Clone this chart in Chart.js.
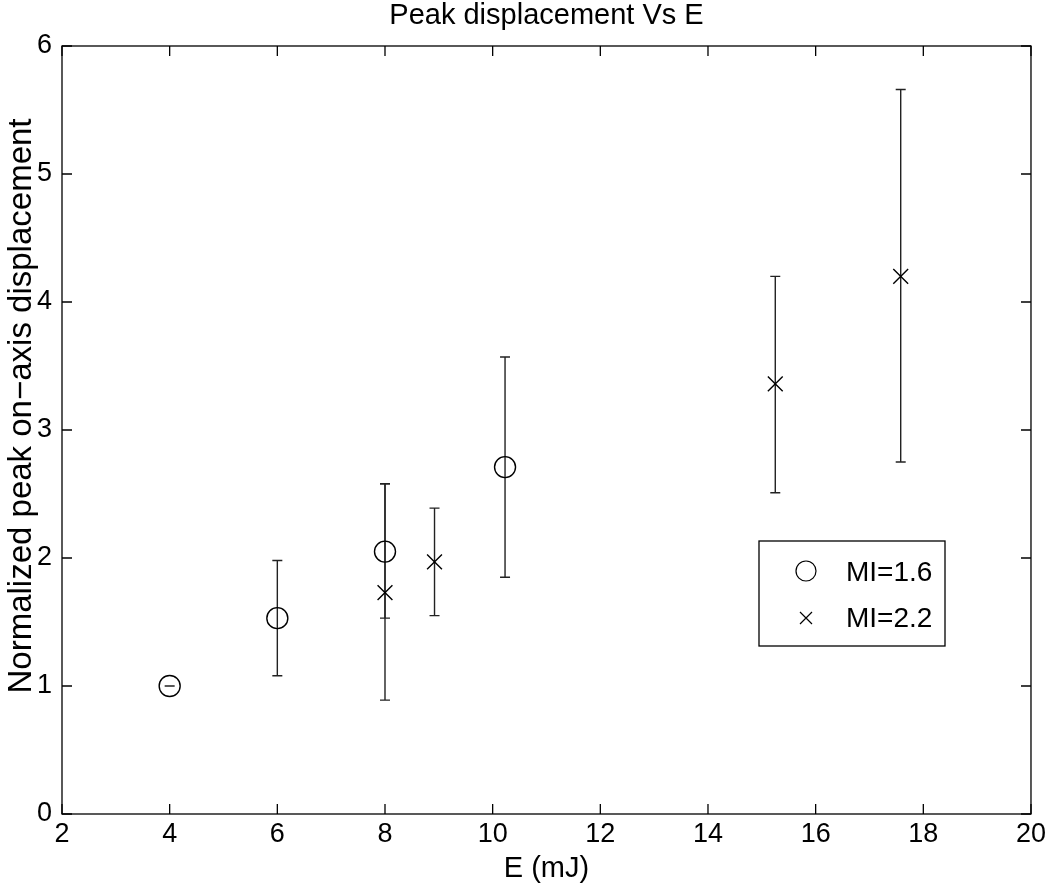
<!DOCTYPE html>
<html>
<head>
<meta charset="utf-8">
<script src="https://cdn.jsdelivr.net/npm/chart.js@4.4.1/dist/chart.umd.min.js"></script>
<style>
  html, body { margin: 0; padding: 0; background: #fff; }
  #wrap { width: 1050px; height: 886px; position: relative; }
</style>
</head>
<body>
<div id="wrap"><canvas id="grafico"></canvas></div>
<script>
// Datos
const energiaA = [4, 6, 8, 10.23];
const picoA    = [1.0, 1.53, 2.05, 2.71];
const bajoA    = [1.0, 1.08, 1.53, 1.85];
const altoA    = [1.0, 1.98, 2.58, 3.57];

const energiaB = [8, 8.92, 15.25, 17.58];
const picoB    = [1.73, 1.97, 3.36, 4.20];
const bajoB    = [0.89, 1.55, 2.51, 2.75];
const altoB    = [2.58, 2.39, 4.20, 5.66];

const etiquetas = ['MI=1.6', 'MI=2.2'];
const titulo = 'Peak displacement Vs E';
const tituloY = 'Normalized peak on\u2212axis displacement';
const fuente = '"Liberation Sans", Arial, sans-serif';

// barras de error dibujadas con las escalas del grafico
const barrasError = {
    id: 'barrasError',
    beforeDatasetsDraw(chart) {
        const { ctx, scales: { x, y } } = chart;
        const series = [[energiaA, bajoA, altoA], [energiaB, bajoB, altoB]];
        ctx.save();
        ctx.strokeStyle = '#222';
        ctx.lineWidth = 1.4;
        series.forEach(([ex, lo, hi]) => {
            ex.forEach((e, i) => {
                const px = x.getPixelForValue(e);
                const p1 = y.getPixelForValue(lo[i]);
                const p2 = y.getPixelForValue(hi[i]);
                ctx.beginPath();
                ctx.moveTo(px, p1); ctx.lineTo(px, p2);
                ctx.moveTo(px - 5, p1); ctx.lineTo(px + 5, p1);
                ctx.moveTo(px - 5, p2); ctx.lineTo(px + 5, p2);
                ctx.stroke();
            });
        });
        ctx.restore();
    }
};

// marco con marcas hacia adentro, titulos y leyenda (estilo matlab)
const marco = {
    id: 'marco',
    afterDraw(chart) {
        const { ctx, chartArea: a, scales: { x, y } } = chart;
        ctx.save();
        ctx.strokeStyle = '#000';
        ctx.lineWidth = 1.3;
        ctx.strokeRect(a.left, a.top, a.right - a.left, a.bottom - a.top);
        ctx.beginPath();
        x.ticks.forEach(t => {
            const px = x.getPixelForValue(t.value);
            ctx.moveTo(px, a.bottom); ctx.lineTo(px, a.bottom - 10);
            ctx.moveTo(px, a.top); ctx.lineTo(px, a.top + 10);
        });
        y.ticks.forEach(t => {
            const py = y.getPixelForValue(t.value);
            ctx.moveTo(a.left, py); ctx.lineTo(a.left + 10, py);
            ctx.moveTo(a.right, py); ctx.lineTo(a.right - 10, py);
        });
        ctx.stroke();

        // titulo y titulo del eje y
        ctx.fillStyle = '#000';
        ctx.textAlign = 'center';
        ctx.textBaseline = 'alphabetic';
        ctx.font = '29px ' + fuente;
        ctx.fillText(titulo, (a.left + a.right) / 2, 24);
        ctx.save();
        ctx.translate(31, 406);
        ctx.rotate(-Math.PI / 2);
        ctx.font = '33px ' + fuente;
        ctx.fillText(tituloY, 0, 0);
        ctx.restore();

        // leyenda
        const bx = 759, by = 541, bw = 186, bh = 105;
        ctx.fillStyle = '#fff';
        ctx.fillRect(bx, by, bw, bh);
        ctx.strokeRect(bx, by, bw, bh);
        ctx.lineWidth = 1.2;
        ctx.beginPath();
        ctx.arc(806, 571, 10, 0, Math.PI * 2);
        ctx.stroke();
        ctx.beginPath();
        ctx.moveTo(800, 612); ctx.lineTo(812, 624);
        ctx.moveTo(812, 612); ctx.lineTo(800, 624);
        ctx.stroke();
        ctx.fillStyle = '#000';
        ctx.font = '28px ' + fuente;
        ctx.textBaseline = 'middle';
        ctx.textAlign = 'left';
        ctx.fillText(etiquetas[0], 846, 573);
        ctx.fillText(etiquetas[1], 846, 619);
        ctx.restore();
    }
};

new Chart(document.getElementById('grafico'), {
    type: 'scatter',
    data: {
        datasets: [
            {
                label: etiquetas[0],
                data: energiaA.map((e, i) => ({ x: e, y: picoA[i] })),
                pointStyle: 'circle',
                pointRadius: 10.5,
                pointHoverRadius: 10.5,
                borderColor: '#000',
                backgroundColor: 'rgba(0,0,0,0)',
                borderWidth: 1.4
            },
            {
                label: etiquetas[1],
                data: energiaB.map((e, i) => ({ x: e, y: picoB[i] })),
                pointStyle: 'crossRot',
                pointRadius: 10.5,
                pointHoverRadius: 10.5,
                borderColor: '#000',
                backgroundColor: 'rgba(0,0,0,0)',
                borderWidth: 1.4
            }
        ]
    },
    options: {
        responsive: true,
        maintainAspectRatio: false,
        animation: false,
        layout: { padding: { left: 0, right: 19, top: 46, bottom: 0 } },
        plugins: {
            legend: { display: false },
            tooltip: { enabled: false },
            title: { display: false }
        },
        scales: {
            x: {
                type: 'linear',
                min: 2, max: 20,
                grid: { display: false, drawTicks: false },
                border: { display: false },
                ticks: { stepSize: 2, color: '#000', padding: 4, maxRotation: 0,
                         font: { family: fuente, size: 27 } },
                title: { display: true, text: 'E (mJ)', color: '#000', padding: 0,
                         font: { family: fuente, size: 29 } },
                afterFit(s) { s.height = 72; }
            },
            y: {
                type: 'linear',
                min: 0, max: 6,
                grid: { display: false, drawTicks: false },
                border: { display: false },
                ticks: { stepSize: 1, color: '#000', padding: 10,
                         font: { family: fuente, size: 27 } },
                afterFit(s) { s.width = 62; }
            }
        }
    },
    plugins: [barrasError, marco]
});
</script>
</body>
</html>
